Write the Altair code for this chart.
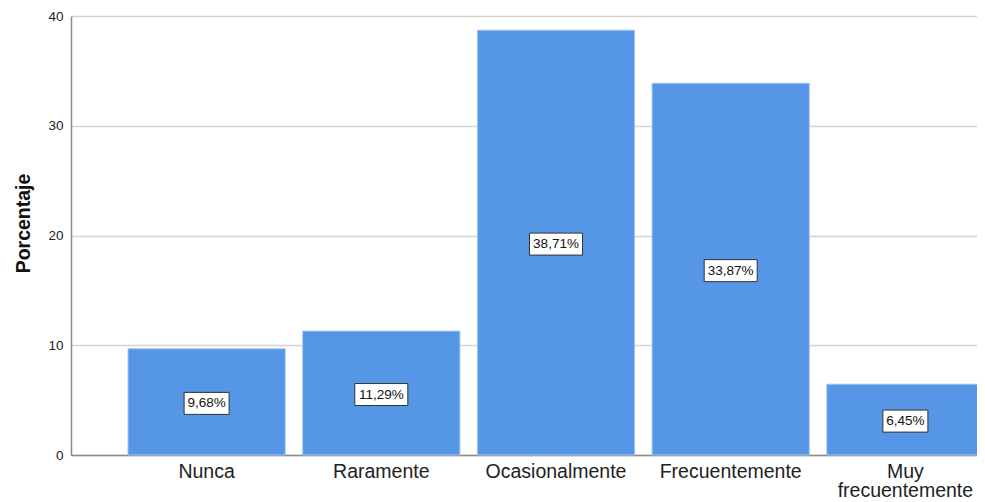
import altair as alt
import pandas as pd

categories = ["Nunca", "Raramente", "Ocasionalmente", "Frecuentemente", "Muy frecuentemente"]
percentages = [9.68, 11.29, 38.71, 33.87, 6.45]
value_labels = ["9,68%", "11,29%", "38,71%", "33,87%", "6,45%"]
y_ticks = [0, 10, 20, 30, 40]

df = pd.DataFrame({"cat": categories, "pct": percentages, "lab": value_labels})

FONT = "Liberation Sans"

x_enc = alt.X(
    "cat:N",
    sort=categories,
    title=None,
    scale=alt.Scale(paddingInner=0.1, paddingOuter=0.3263),
    axis=alt.Axis(
        labelFontSize=19.5,
        labelFont=FONT,
        labelColor="#222222",
        labelAngle=0,
        labelPadding=7,
        labelLineHeight=19.5,
        labelExpr="split(datum.label, ' ')",
        ticks=False,
        domainColor="#8a8a8a",
        domainWidth=1.5,
        grid=False,
    ),
)

y_scale = alt.Scale(domain=[0, 40], nice=False)
y_axis = alt.Axis(
    values=y_ticks,
    title="Porcentaje",
    titleFont=FONT,
    titleFontSize=19.5,
    titleFontWeight="bold",
    titleColor="#111111",
    titleX=-48,
    titleY=207,
    titleAlign="center",
    titleBaseline="middle",
    labelFont=FONT,
    labelFontSize=13.5,
    labelColor="#222222",
    labelPadding=8,
    ticks=False,
    domainColor="#8a8a8a",
    domainWidth=1.5,
    grid=True,
    gridColor="#d3d3d3",
    gridWidth=1.5,
)

bars = alt.Chart(df).mark_bar(
    color="#5596e6", stroke="#a3c6f2", strokeWidth=1
).encode(
    x=x_enc,
    y=alt.Y("pct:Q", scale=y_scale, axis=y_axis),
)

base = alt.Chart(df).transform_calculate(
    mid="datum.pct / 2",
    w="(length(datum.lab) * 8 + 5) / 2",
).transform_calculate(
    path="'M' + (-datum.w) + ',-9.5H' + datum.w + 'V12.5H' + (-datum.w) + 'Z'"
)

boxes = base.mark_point(
    filled=True, fill="white", stroke="#333333", strokeWidth=1, opacity=1, size=4
).encode(
    x=x_enc,
    y=alt.Y("mid:Q", scale=y_scale, axis=y_axis),
    shape=alt.Shape("path:N", scale=None),
)

texts = base.mark_text(
    font=FONT, fontSize=13.5, color="#111111", dy=1.5
).encode(
    x=x_enc,
    y=alt.Y("mid:Q", scale=y_scale, axis=y_axis),
    text="lab:N",
)

chart = alt.layer(bars, boxes, texts).properties(
    width=970,
    height=439,
    background="white",
    autosize=alt.AutoSizeParams(type="none"),
    padding={"left": 63, "top": 8, "right": -64, "bottom": 47},
).configure_view(stroke=None)

chart.save("out.html", embed_options={"renderer": "svg", "actions": False})
